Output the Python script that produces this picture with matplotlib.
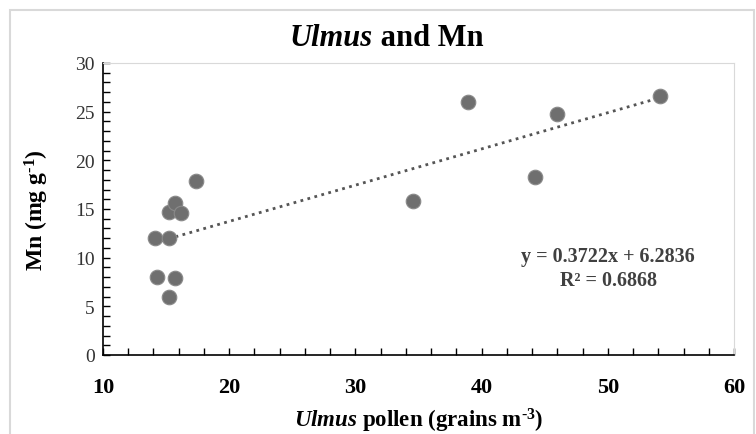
import matplotlib
matplotlib.use("Agg")
import matplotlib.pyplot as plt
from matplotlib.ticker import MultipleLocator
from matplotlib.patches import Rectangle
import numpy as np

pollen = [14.1, 14.3, 15.2, 15.2, 15.2, 15.7, 15.7, 16.2, 17.4, 34.6, 38.9, 44.2, 46.0, 54.1]
mn = [12.0, 8.0, 12.0, 14.7, 6.0, 15.6, 7.9, 14.6, 17.9, 15.8, 26.0, 18.3, 24.8, 26.6]
slope = 0.3722
intercept = 6.2836
eq_text = "y = 0.3722x + 6.2836"
r2_text = "R² = 0.6868"

plt.rcParams['font.family'] = ['Liberation Serif', 'DejaVu Serif']
plt.rcParams['mathtext.fontset'] = 'custom'
plt.rcParams['mathtext.rm'] = 'Liberation Serif:bold'
plt.rcParams['mathtext.bf'] = 'Liberation Serif:bold'
plt.rcParams['mathtext.it'] = 'Liberation Serif:italic:bold'
plt.rcParams['mathtext.default'] = 'rm'

fig = plt.figure(figsize=(7.56, 4.35), dpi=100)
fig.patches.append(Rectangle((10/756, -0.1), 744/756, 1.1 - 11/435, transform=fig.transFigure,
                             fill=False, edgecolor='#d9d9d9', linewidth=1.5))
ax = fig.add_axes([103/756, 1-356/435, (734-103)/756, (356-64)/435])

ax.scatter(pollen, mn, s=110, color='#6f6f6f', edgecolors='#8a8a8a', linewidths=0.8, zorder=3)
xs = np.array([min(pollen), max(pollen)])
ax.plot(xs, slope*xs + intercept, linestyle=(0, (1, 1.6)), color='#555555', linewidth=2.0, zorder=2)

ax.set_xlim(10, 60)
ax.set_ylim(0, 30)
ax.xaxis.set_major_locator(MultipleLocator(10))
ax.xaxis.set_minor_locator(MultipleLocator(2))
ax.yaxis.set_major_locator(MultipleLocator(5))
ax.yaxis.set_minor_locator(MultipleLocator(1))
ax.tick_params(axis='both', which='both', direction='in', length=5, width=1, color='black')
ax.tick_params(axis='x', which='major', pad=16, labelsize=16)
ax.tick_params(axis='y', which='major', pad=6, labelsize=14, labelcolor='#333333')
for lab in ax.get_xticklabels():
    lab.set_fontweight('bold')

for s in ['top', 'right']:
    ax.spines[s].set_color('#d9d9d9')
for s in ['left', 'bottom']:
    ax.spines[s].set_color('black')
    ax.spines[s].set_linewidth(1.2)

ax.set_xlabel(r"$\mathit{Ulmus}$ pollen (grains m$^{\text{-}3}$)", fontsize=16.5, fontweight='bold', labelpad=6)
ax.set_ylabel(r"Mn (mg g$^{\text{-}1}$)", fontsize=17, fontweight='bold', labelpad=17)

fig.text(373/756, 1-39/435, "Ulmus", fontsize=22, fontweight='bold', style='italic', ha='right', va='center')
fig.text(373/756, 1-39/435, " and Mn", fontsize=22, fontweight='bold', ha='left', va='center')

fig.text(608/756, 1-257/435, eq_text, fontsize=14.5, color='#404040', ha='center', va='center', fontweight='bold')
fig.text(608/756, 1-281/435, r2_text, fontsize=14.5, color='#404040', ha='center', va='center', fontweight='bold')

fig.savefig("out.png", dpi=100)
